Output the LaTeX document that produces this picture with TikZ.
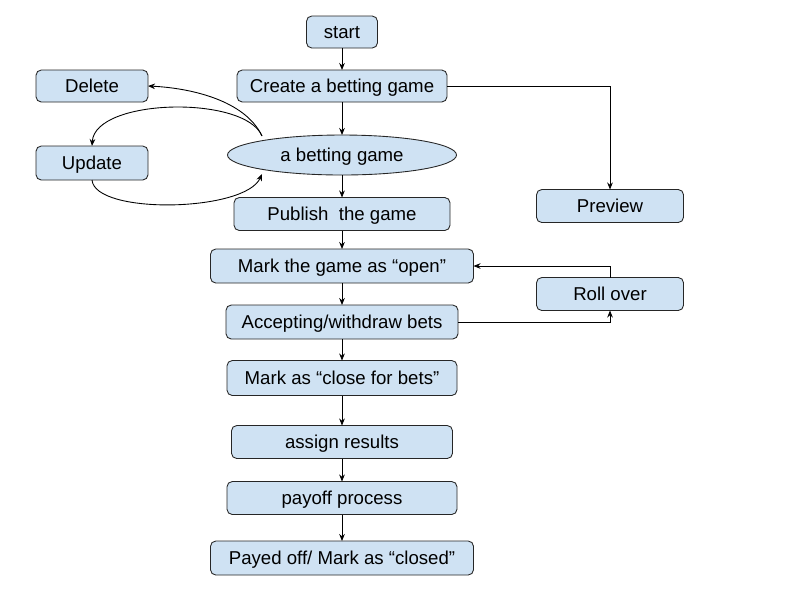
\documentclass[tikz,border=0pt]{standalone}
\usepackage{fontspec}
\setmainfont{Liberation Sans}
\usetikzlibrary{arrows.meta,shapes.geometric}
\definecolor{boxfill}{HTML}{CFE2F3}
\begin{document}
\begin{tikzpicture}[x=0.02cm,y=-0.02cm,
  bx/.style 2 args={draw=black!85, fill=boxfill, rounded corners=3pt, line width=0.5pt,
    inner sep=0pt, outer sep=0pt, minimum width=#1*0.02cm, minimum height=#2*0.02cm,
    text height=0.72em, text depth=0pt,
    font=\fontsize{10.6}{12.6}\selectfont},
  el/.style 2 args={ellipse, draw=black!85, fill=boxfill, line width=0.5pt,
    inner sep=0pt, outer sep=0pt, minimum width=#1*0.02cm, minimum height=#2*0.02cm,
    text height=0.72em, text depth=0pt,
    font=\fontsize{10.6}{12.6}\selectfont},
  arr/.style={draw=black, line width=0.5pt, -{Stealth[length=4pt,width=3.2pt]}}]
\useasboundingbox (0,0) rectangle (800,600);
\node[bx={71}{32}] (start) at (342,32) {start};
\node[bx={210}{32}] (create) at (342,86) {Create a betting game};
\node[bx={112}{32}] (delete) at (92,86) {Delete};
\node[el={229}{40}] (game) at (342,155) {a betting game};
\node[bx={112}{34}] (update) at (92,163) {Update};
\node[bx={216}{33}] (publish) at (342,214) {Publish\ \ the game};
\node[bx={147}{33}] (preview) at (610,206) {Preview};
\node[bx={263}{34}] (open) at (342,266) {Mark the game as “open”};
\node[bx={147}{33}] (roll) at (610,294) {Roll over};
\node[bx={232}{34}] (accept) at (342,322) {Accepting/withdraw bets};
\node[bx={230}{35}] (close) at (342,378) {Mark as “close for bets”};
\node[bx={221}{33}] (assign) at (342,442) {assign results};
\node[bx={230}{33}] (payoff) at (342,498) {payoff process};
\node[bx={263}{34}] (payed) at (342,558) {Payed off/ Mark as “closed”};
\coordinate (gtl) at (262,136);
\coordinate (gbl) at (262,174);
\draw[arr] (start) -- (create);
\draw[arr] (create) -- (game);
\draw[arr] (game) -- (publish);
\draw[arr] (publish) -- (open);
\draw[arr] (open) -- (accept);
\draw[arr] (accept) -- (close);
\draw[arr] (close) -- (assign);
\draw[arr] (assign) -- (payoff);
\draw[arr] (payoff) -- (payed);
\draw[arr] (create.east) -| (preview.north);
\draw[arr] (roll.north) |- (open.east);
\draw[arr] (accept.east) -| (roll.south);
\draw[arr] (gtl) .. controls (245,100) and (190,88) .. (delete.east);
\draw[arr] (gtl) .. controls (245,95) and (95,98) .. (update.north);
\draw[arr] (update.south) .. controls (95,215) and (245,212) .. (gbl);
\end{tikzpicture}
\end{document}
